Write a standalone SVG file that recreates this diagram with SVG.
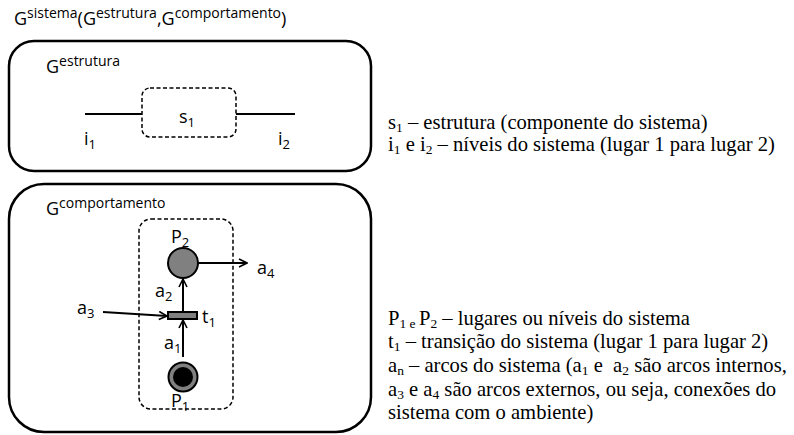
<svg xmlns="http://www.w3.org/2000/svg" width="794" height="435" viewBox="0 0 794 435">
<defs>
<style>
.sans{font-family:"Open Sans","Noto Sans",sans-serif;font-size:18px;fill:#000}
.serif{font-family:"Liberation Serif","Times New Roman",serif;font-size:20.6px;fill:#000}
.sup{font-size:14px}
.sub{font-size:13px}
.ssub{font-size:13.5px}
.box{fill:none;stroke:#000;stroke-width:2.5}
.dash{fill:none;stroke:#000;stroke-width:1.5;stroke-dasharray:4 2.5}
.ln{stroke:#000;stroke-width:2;fill:none}
</style>
<marker id="arr" viewBox="0 0 10 10" refX="9" refY="5" markerWidth="10" markerHeight="10" markerUnits="userSpaceOnUse" orient="auto">
<path d="M1,1 L9,5 L1,9" fill="none" stroke="#000" stroke-width="1.6"/>
</marker>
</defs>
<rect width="794" height="435" fill="#fff"/>

<g id="title">
<text class="sans" x="14" y="24.5">G<tspan class="sup" dy="-7">sistema</tspan><tspan dy="7">(G</tspan><tspan class="sup" dy="-7">estrutura</tspan><tspan dy="7">,G</tspan><tspan class="sup" dy="-7">comportamento</tspan><tspan dy="7">)</tspan></text>
</g>

<g id="estrutura">
<rect class="box" x="9" y="41" width="362" height="130" rx="25"/>
<text class="sans" x="46" y="73">G<tspan class="sup" dy="-7">estrutura</tspan></text>
</g>

<g id="s1">
<rect class="dash" x="142" y="88" width="94" height="49" rx="8"/>
<text class="sans" x="179" y="123">s<tspan class="sub" dy="4">1</tspan></text>
</g>

<g id="i1"><text class="sans" x="84" y="145">i<tspan class="sub" dy="4">1</tspan></text></g>
<g id="i2"><text class="sans" x="278" y="145">i<tspan class="sub" dy="4">2</tspan></text></g>

<g id="comportamento">
<rect class="box" x="9" y="184" width="362" height="248" rx="35"/>
<text class="sans" x="46" y="215">G<tspan class="sup" dy="-7">comportamento</tspan></text>
<rect class="dash" x="139" y="219" width="94" height="190" rx="12"/>
</g>

<g id="P2">
<circle cx="183" cy="263" r="15" fill="#808080" stroke="#000" stroke-width="2"/>
<text class="sans" x="171" y="243">P<tspan class="sub" dy="4">2</tspan></text>
</g>

<g id="t1">
<rect x="168" y="312" width="29" height="7" fill="#808080" stroke="#000" stroke-width="2"/>
<text class="sans" x="202" y="323">t<tspan class="sub" dy="4">1</tspan></text>
</g>

<g id="P1">
<circle cx="183" cy="377" r="14.5" fill="#808080" stroke="#000" stroke-width="2"/>
<circle cx="183" cy="377" r="10" fill="#000"/>
<text class="sans" x="171" y="407">P<tspan class="sub" dy="4">1</tspan></text>
</g>

<g id="connectors">
<line class="ln" x1="85" y1="114" x2="142" y2="114"/>
<line class="ln" x1="236" y1="114" x2="295" y2="114"/>
<line class="ln" x1="198" y1="263" x2="247" y2="263" marker-end="url(#arr)"/>
<line class="ln" x1="183" y1="312" x2="183" y2="279" marker-end="url(#arr)"/>
<line class="ln" x1="183" y1="357" x2="183" y2="320" marker-end="url(#arr)"/>
<line class="ln" x1="103" y1="312" x2="167" y2="316" marker-end="url(#arr)"/>
</g>

<g id="labels">
<text class="sans" x="257" y="274">a<tspan class="sub" dy="4">4</tspan></text>
<text class="sans" x="155" y="297">a<tspan class="sub" dy="4">2</tspan></text>
<text class="sans" x="77" y="314">a<tspan class="sub" dy="4">3</tspan></text>
<text class="sans" x="164" y="349">a<tspan class="sub" dy="4">1</tspan></text>
</g>

<g id="legend" font-family="'Liberation Serif','Times New Roman',serif">
<text class="serif" x="388" y="129">s<tspan class="ssub" dy="3">1</tspan><tspan dy="-3"> – estrutura (componente do sistema)</tspan></text>
<text class="serif" x="388" y="151">i<tspan class="ssub" dy="3">1</tspan><tspan dy="-3"> e i</tspan><tspan class="ssub" dy="3">2</tspan><tspan dy="-3"> – níveis do sistema (lugar 1 para lugar 2)</tspan></text>
<text class="serif" x="388" y="325">P<tspan class="ssub" dy="3">1 e </tspan><tspan dy="-3">P</tspan><tspan class="ssub" dy="3">2</tspan><tspan dy="-3"> – lugares ou níveis do sistema</tspan></text>
<text class="serif" x="388" y="348">t<tspan class="ssub" dy="3">1</tspan><tspan dy="-3"> – transição do sistema (lugar 1 para lugar 2)</tspan></text>
<text class="serif" x="388" y="372">a<tspan class="ssub" dy="3">n</tspan><tspan dy="-3"> – arcos do sistema (a</tspan><tspan class="ssub" dy="3">1</tspan><tspan dy="-3"> e&#160; a</tspan><tspan class="ssub" dy="3">2</tspan><tspan dy="-3"> são arcos internos,</tspan></text>
<text class="serif" x="388" y="396">a<tspan class="ssub" dy="3">3</tspan><tspan dy="-3"> e a</tspan><tspan class="ssub" dy="3">4</tspan><tspan dy="-3"> são arcos externos, ou seja, conexões do</tspan></text>
<text class="serif" x="388" y="419">sistema com o ambiente)</text>
</g>
</svg>
